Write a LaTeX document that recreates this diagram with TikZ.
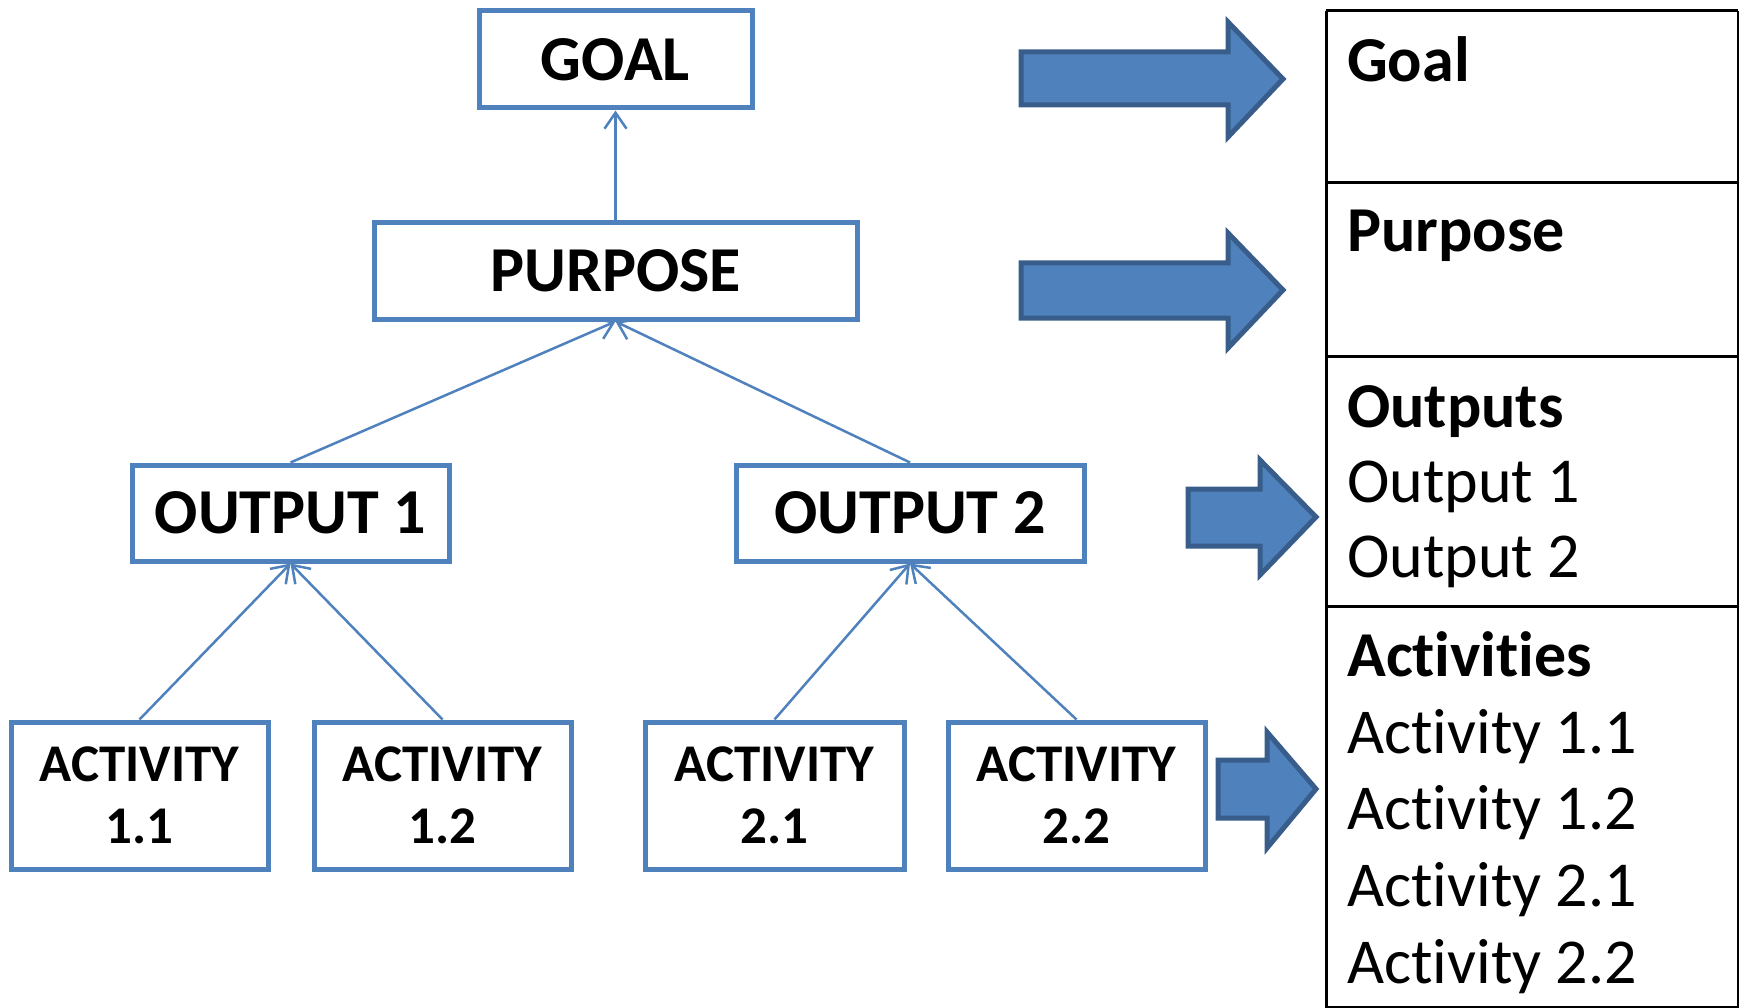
\documentclass[tikz,border=0pt]{standalone}
\usepackage{fontspec}
\setmainfont{Carlito}[Ligatures=NoCommon]
\usetikzlibrary{arrows.meta}
\definecolor{boxblue}{HTML}{4F81BD}
\definecolor{edgeblue}{HTML}{385D8A}
\tikzset{
 box/.style={draw=boxblue,line width=5pt,align=center,inner sep=0pt,font=\fontsize{64}{62}\selectfont\bfseries},
 actbox/.style={box,minimum height=147pt,font=\fontsize{53}{62}\selectfont\bfseries},
 link/.style={draw=boxblue,line width=2.5pt,-{Straight Barb[length=16pt,width=22pt]}},
 fat/.style={fill=boxblue,draw=edgeblue,line width=5pt,line join=miter},
 cell/.style={anchor=base west,inner sep=0pt,font=\fontsize{64}{77}\selectfont},
}
\begin{document}
\begin{tikzpicture}[x=1pt,y=-1pt]
 \useasboundingbox (0,0) rectangle (1739,1008);
 % hierarchy
 \node[box,minimum width=273pt,minimum height=97pt] (goal) at (615.5,59.5) {GOAL};
 \node[box,minimum width=483pt,minimum height=96pt] (purpose) at (615.5,271) {PURPOSE};
 \node[box,minimum width=317pt,minimum height=96pt] (out1) at (290.5,513) {OUTPUT 1};
 \node[box,minimum width=348pt,minimum height=96pt] (out2) at (910,513) {OUTPUT 2};
 \node[actbox,minimum width=257pt] (act11) at (139.5,795.5) {ACTIVITY\\1.1};
 \node[actbox,minimum width=257pt] (act12) at (442.5,795.5) {ACTIVITY\\1.2};
 \node[actbox,minimum width=259pt] (act21) at (774.5,795.5) {ACTIVITY\\2.1};
 \node[actbox,minimum width=257pt] (act22) at (1076.5,795.5) {ACTIVITY\\2.2};
 \draw[link] (purpose) -- (goal);
 \draw[link] (out1.north) -- (purpose.south);
 \draw[link] (out2.north) -- (purpose.south);
 \draw[link] (act11.north) -- (out1.south);
 \draw[link] (act12.north) -- (out1.south);
 \draw[link] (act21.north) -- (out2.south);
 \draw[link] (act22.north) -- (out2.south);
 % block arrows
 \draw[fat] (1021,52)--(1228,52)--(1228,22)--(1283,79)--(1228,137)--(1228,105)--(1021,105)--cycle;
 \draw[fat] (1021,263)--(1228,263)--(1228,233)--(1283,290)--(1228,348)--(1228,318)--(1021,318)--cycle;
 \draw[fat] (1188,489)--(1260,489)--(1260,460)--(1316,517)--(1260,575)--(1260,546)--(1188,546)--cycle;
 \draw[fat] (1218,760)--(1267,760)--(1267,732)--(1316,789)--(1267,848)--(1267,818)--(1218,818)--cycle;
 % table
 \draw[line width=3pt] (1326,11)--(1738,11) (1326,11)--(1326,1008) (1738,11)--(1738,1008) (1326,1007)--(1738,1007);
 \draw[line width=3pt] (1326,183)--(1738,183) (1326,356)--(1738,356) (1326,606)--(1738,606);
 \node[cell,font=\fontsize{64}{77}\selectfont\bfseries] (tgoal) at (1347,82) {Goal};
 \node[cell,font=\fontsize{64}{77}\selectfont\bfseries] (tpurpose) at (1347,252) {Purpose};
 \node[cell,font=\fontsize{64}{77}\selectfont\bfseries] (toutputs) at (1347,427) {Outputs};
 \node[cell] (tout1) at (1347,502) {Output 1};
 \node[cell] (tout2) at (1347,577) {Output 2};
 \node[cell,font=\fontsize{64}{77}\selectfont\bfseries] (tacts) at (1347,676) {Activities};
 \node[cell] (tact11) at (1347,753) {Activity 1.1};
 \node[cell] (tact12) at (1347,829) {Activity 1.2};
 \node[cell] (tact21) at (1347,906) {Activity 2.1};
 \node[cell] (tact22) at (1347,983) {Activity 2.2};
\end{tikzpicture}
\end{document}
